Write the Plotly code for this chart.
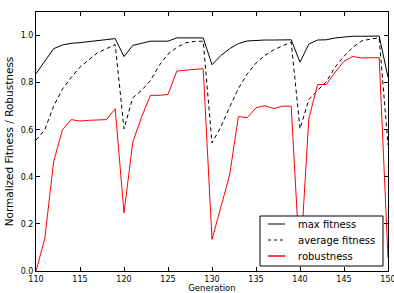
import plotly.graph_objects as go

generations = list(range(110, 151))

max_fitness = [0.838, 0.89, 0.944, 0.96, 0.967, 0.97, 0.975, 0.978, 0.982, 0.987,
               0.911, 0.958, 0.967, 0.976, 0.976, 0.976, 0.99, 0.99, 0.99, 0.99,
               0.876, 0.915, 0.944, 0.966, 0.977, 0.98, 0.981, 0.981, 0.982, 0.982,
               0.887, 0.964, 0.981, 0.982, 0.99, 0.995, 0.997, 0.997, 0.997, 0.998,
               0.823]

avg_fitness = [0.556, 0.60, 0.70, 0.772, 0.822, 0.866, 0.897, 0.927, 0.944, 0.962,
               0.604, 0.736, 0.767, 0.809, 0.873, 0.921, 0.95, 0.969, 0.975, 0.976,
               0.544, 0.611, 0.696, 0.775, 0.837, 0.883, 0.915, 0.939, 0.956, 0.972,
               0.604, 0.728, 0.767, 0.805, 0.866, 0.912, 0.95, 0.977, 0.985, 0.99,
               0.535]

robustness = [0.0, 0.138, 0.463, 0.60, 0.643, 0.637, 0.64, 0.64, 0.643, 0.689,
              0.247, 0.548, 0.654, 0.746, 0.746, 0.75, 0.849, 0.853, 0.857, 0.859,
              0.134, 0.272, 0.407, 0.656, 0.651, 0.693, 0.702, 0.69, 0.70, 0.70,
              0.02, 0.647, 0.792, 0.792, 0.845, 0.891, 0.911, 0.905, 0.905, 0.906,
              0.055]

series_names = ["max fitness", "average fitness", "robustness"]
y_ticks = [0.0, 0.2, 0.4, 0.6, 0.8, 1.0]
y_tick_labels = ["0.0", "0.2", "0.4", "0.6", "0.8", "1.0"]
x_ticks = [110, 115, 120, 125, 130, 135, 140, 145, 150]

W, H = 394, 293
ML, MR, MT, MB = 36, 6, 12, 22
PW, PH = W - ML - MR, H - MT - MB

def px_x(p):
    return (p - ML) / PW

def px_y(p):
    return (H - MB - p) / PH

styles = [dict(color="black", width=1),
          dict(color="black", width=1, dash="4px,3px"),
          dict(color="#ff0000", width=1)]

fig = go.Figure()
for name, ys, st in zip(series_names, [max_fitness, avg_fitness, robustness], styles):
    fig.add_trace(go.Scatter(x=generations, y=ys, mode="lines", name=name,
                             line=st, showlegend=False, cliponaxis=True))

font = dict(family="DejaVu Sans", size=8, color="black")
axis_common = dict(showline=True, linecolor="black", linewidth=1, mirror="ticks",
                   ticks="inside", ticklen=4, tickcolor="black", showgrid=False,
                   zeroline=False, tickfont=font, automargin=False,
                   ticklabeloverflow="allow")

fig.update_xaxes(range=[110, 150], tickvals=x_ticks,
                 title=dict(text="Generation", font=dict(family="DejaVu Sans", size=8.5, color="black"), standoff=2),
                 **axis_common)
fig.update_yaxes(range=[0, 1.1], tickvals=y_ticks, ticktext=y_tick_labels,
                 title=dict(text="Normalized Fitness / Robustness", font=dict(family="DejaVu Sans", size=10.5, color="black"), standoff=4),
                 **axis_common)

# legend (manual)
shapes = [dict(type="rect", xref="paper", yref="paper",
               x0=px_x(260), x1=px_x(383), y0=px_y(266), y1=px_y(216),
               line=dict(color="black", width=1), fillcolor="white", layer="above")]
annotations = []
entry_y = [224, 240, 256]
leg_styles = [dict(color="black", width=1),
              dict(color="black", width=1, dash="3px,3px"),
              dict(color="#ff4040", width=2)]
for name, ey, st in zip(series_names, entry_y, leg_styles):
    shapes.append(dict(type="line", xref="paper", yref="paper",
                       x0=px_x(268), x1=px_x(285), y0=px_y(ey), y1=px_y(ey),
                       line=st, layer="above"))
    annotations.append(dict(text=name, xref="paper", yref="paper",
                            x=px_x(296), y=px_y(ey), xanchor="left", yanchor="middle",
                            showarrow=False, font=dict(family="DejaVu Sans", size=10, color="black")))

fig.update_layout(
    width=W, height=H,
    margin=dict(l=ML, r=MR, t=MT, b=MB),
    paper_bgcolor="white", plot_bgcolor="white",
    showlegend=False,
    shapes=shapes, annotations=annotations,
)

fig.write_html("out.html", config={"displayModeBar": False},
               post_script="document.body.style.margin='0';document.body.style.padding='0';document.body.style.overflow='hidden';")
